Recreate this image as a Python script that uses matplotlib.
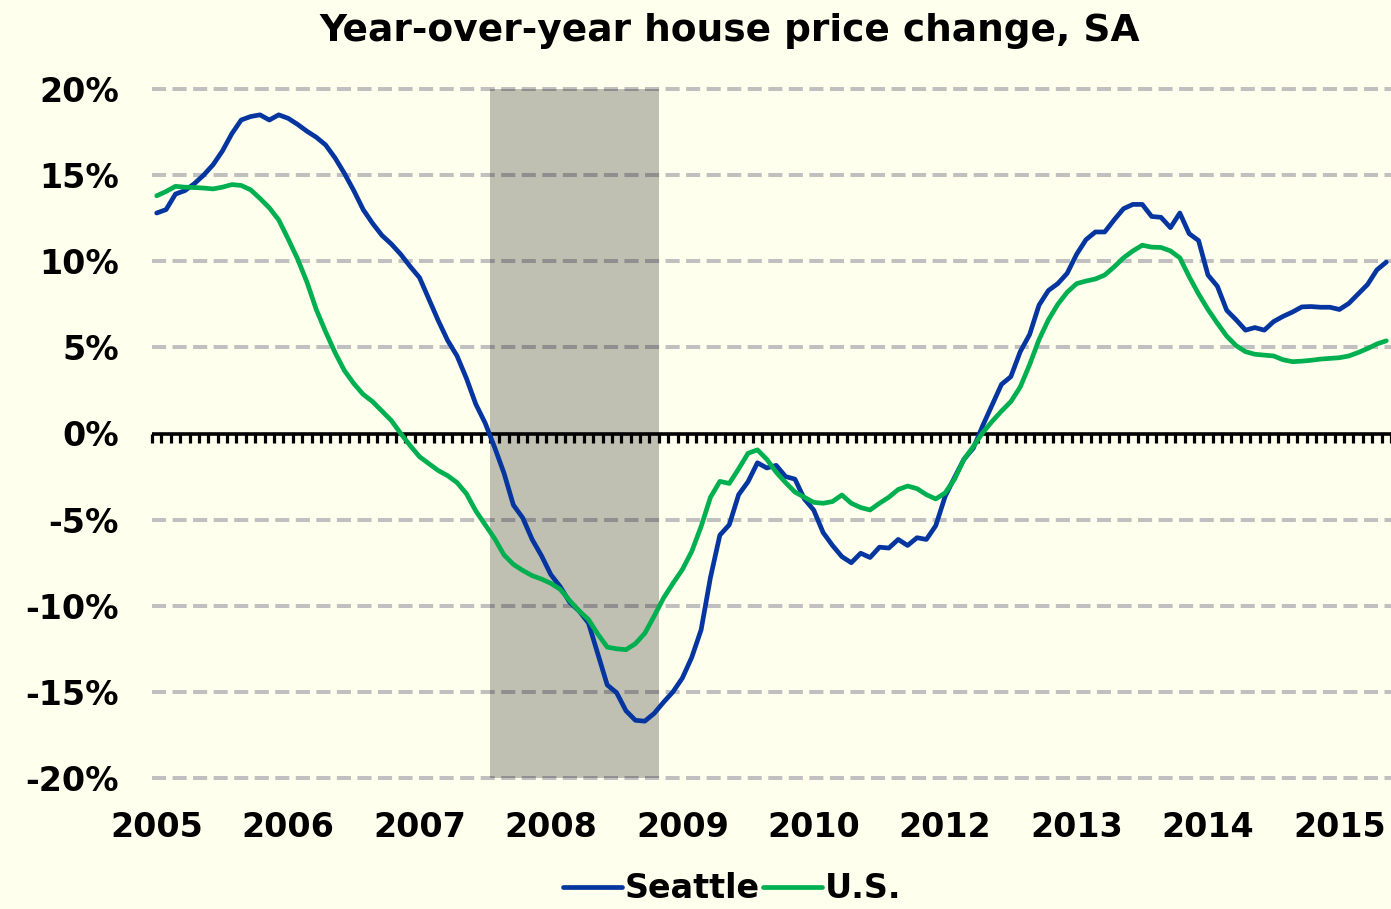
import numpy as np
import pandas as pd
import matplotlib
matplotlib.use("Agg")
import matplotlib.pyplot as plt
from matplotlib.ticker import FuncFormatter

# ============================
# DATA: year-over-year change, %, monthly Jan 2005 - Dec 2015
# ============================
months = pd.date_range("2005-01-01", periods=132, freq="MS")

seattle = [
    12.8, 13.0, 13.9, 14.1, 14.5, 15.0, 15.6, 16.4, 17.4, 18.2, 18.4, 18.5,
    18.2, 18.5, 18.3, 17.95, 17.55, 17.2, 16.75, 16.0, 15.1, 14.1, 13.0, 12.2,
    11.5, 11.0, 10.4, 9.7, 9.05, 7.8, 6.55, 5.4, 4.5, 3.2, 1.7, 0.6,
    -0.8, -2.3, -4.15, -4.9, -6.15, -7.1, -8.2, -8.9, -9.8, -10.3, -11.0, -12.8,
    -14.6, -15.05, -16.1, -16.65, -16.7, -16.25, -15.6, -15.0, -14.2, -13.0, -11.4, -8.35,
    -5.9, -5.3, -3.55, -2.8, -1.7, -2.0, -1.85, -2.5, -2.65, -3.8, -4.45, -5.75,
    -6.5, -7.15, -7.5, -6.95, -7.2, -6.6, -6.65, -6.15, -6.5, -6.05, -6.15, -5.35,
    -3.65, -2.55, -1.5, -0.85, 0.45, 1.65, 2.85, 3.3, 4.75, 5.75, 7.45, 8.3,
    8.7, 9.3, 10.4, 11.25, 11.7, 11.7, 12.4, 13.05, 13.3, 13.3, 12.6, 12.55,
    11.95, 12.8, 11.6, 11.2, 9.2, 8.55, 7.15, 6.6, 6.0, 6.15, 6.0, 6.5,
    6.8, 7.05, 7.35, 7.37, 7.33, 7.33, 7.2, 7.55, 8.1, 8.65, 9.5, 9.95,
]

us = [
    13.8, 14.05, 14.35, 14.3, 14.28, 14.25, 14.2, 14.3, 14.45, 14.4, 14.15, 13.65,
    13.1, 12.4, 11.3, 10.15, 8.8, 7.2, 5.9, 4.7, 3.65, 2.9, 2.27, 1.85,
    1.3, 0.75, 0.0, -0.7, -1.35, -1.75, -2.15, -2.45, -2.85, -3.5, -4.5, -5.3,
    -6.1, -7.05, -7.6, -7.95, -8.25, -8.45, -8.7, -9.05, -9.7, -10.3, -10.8, -11.65,
    -12.4, -12.5, -12.55, -12.2, -11.6, -10.6, -9.55, -8.7, -7.9, -6.85, -5.4, -3.7,
    -2.78, -2.9, -2.05, -1.15, -0.95, -1.5, -2.25, -2.85, -3.4, -3.7, -4.0, -4.05,
    -3.95, -3.57, -4.05, -4.3, -4.44, -4.05, -3.7, -3.25, -3.05, -3.2, -3.55, -3.8,
    -3.45, -2.65, -1.5, -0.76, 0.05, 0.7, 1.3, 1.85, 2.7, 4.0, 5.45, 6.6,
    7.5, 8.2, 8.7, 8.85, 8.97, 9.2, 9.67, 10.2, 10.6, 10.93, 10.82, 10.8,
    10.6, 10.2, 9.1, 8.1, 7.2, 6.4, 5.65, 5.1, 4.75, 4.6, 4.55, 4.5,
    4.28, 4.17, 4.2, 4.25, 4.32, 4.36, 4.4, 4.5, 4.7, 4.93, 5.2, 5.38,
]

# recession: Dec 2007 - Jun 2009
rec_start = months.get_loc(pd.Timestamp("2007-12-01"))
rec_end = months.get_loc(pd.Timestamp("2009-06-01"))

gridlevels = [-20, -15, -10, -5, 5, 10, 15, 20]

# ============================
# STYLE
# ============================
bg = "#FFFFEE"
blue = "#0536A0"
green = "#00B050"

plt.rcParams["font.family"] = ["DejaVu Sans"]
plt.rcParams["font.weight"] = "bold"

fig = plt.figure(figsize=(13.91, 9.09), dpi=100, facecolor=bg)
ax = fig.add_axes([152 / 1391, 1 - 778 / 909, (1391 - 152) / 1391, (778 - 89) / 909])
ax.set_facecolor(bg)

x = np.arange(len(months))
ax.set_xlim(-0.5, len(months) - 0.5)
ax.set_ylim(-20, 20)

# dashed gridlines
for g in gridlevels:
    ax.axhline(g, color="#C0C0C0", lw=2.9, linestyle=(0, (3.5, 1.6)),
               zorder=1, clip_on=False)

# recession shading
ax.axvspan(rec_start + 0.5, rec_end + 0.5, color="black", alpha=0.25, lw=0, zorder=2)

# zero axis with monthly ticks
ax.axhline(0, color="black", lw=2.6, zorder=3)
ax.vlines(np.arange(len(months) + 1) - 0.5, -0.58, 0, color="black", lw=2.3,
          zorder=3, clip_on=False)

# series
ax.plot(x, seattle, color=blue, lw=3.4, zorder=4, label="Seattle",
        solid_joinstyle="round", solid_capstyle="round")
ax.plot(x, us, color=green, lw=3.4, zorder=5, label="U.S.",
        solid_joinstyle="round", solid_capstyle="round")

# ticks
ax.set_xticks(x[::14])
ax.set_xticklabels([str(d.year) for d in months[::14]])
ax.set_yticks(range(-20, 21, 5))
ax.yaxis.set_major_formatter(FuncFormatter(lambda v, _: f"{v:.0f}%"))
ax.tick_params(axis="both", length=0, labelsize=24)
ax.tick_params(axis="y", pad=24)
ax.tick_params(axis="x", pad=24)

for s in ax.spines.values():
    s.set_visible(False)

fig.text(729.5 / 1391, 1 - 31 / 909, "Year-over-year house price change, SA",
         ha="center", va="center", fontsize=27, fontweight="bold")

fig.legend(loc="center", bbox_to_anchor=(732.5 / 1391, 1 - 889 / 909), ncol=2,
           frameon=False, fontsize=24, handlelength=1.75, handletextpad=0.1,
           columnspacing=0.1, borderpad=0, borderaxespad=0)

fig.savefig("out.png", dpi=100, facecolor=bg)
